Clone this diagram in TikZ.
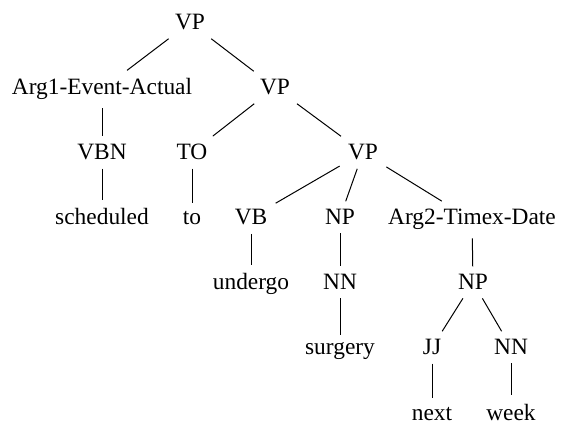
\documentclass[tikz,border=0pt]{standalone}
\usepackage{fontspec}
\setmainfont{Liberation Serif}
\begin{document}
\begin{tikzpicture}[x=0.5pt,y=-0.5pt,
  lbl/.style={anchor=base,inner sep=4pt,font=\fontsize{11.7}{14}\selectfont},
  edge/.style={draw=black,line width=0.5pt}]
\useasboundingbox (0,0) rectangle (561,421);
% row baselines: 30, 95, 160, 225, 290, 355, 420
\node[lbl] (vp1) at (190,30) {VP};
\node[lbl] (arg1) at (102,95) {Arg1-Event-Actual};
\node[lbl] (vp2) at (275,95) {VP};
\node[lbl] (vbn) at (102,160) {VBN};
\node[lbl] (to) at (192,160) {TO};
\node[lbl] (vp3) at (363,160) {VP};
\node[lbl] (sched) at (102,225) {scheduled};
\node[lbl] (tow) at (192,225) {to};
\node[lbl] (vb) at (251,225) {VB};
\node[lbl] (np1) at (340,225) {NP};
\node[lbl] (arg2) at (472,225) {Arg2-Timex-Date};
\node[lbl] (undergo) at (251,290) {undergo};
\node[lbl] (nn1) at (340,290) {NN};
\node[lbl] (np2) at (473,290) {NP};
\node[lbl] (surgery) at (340,355) {surgery};
\node[lbl] (jj) at (432,355) {JJ};
\node[lbl] (nn2) at (511,355) {NN};
\node[lbl] (next) at (432,420) {next};
\node[lbl] (week) at (511,420) {week};
\draw[edge] (vp1) -- (arg1);
\draw[edge] (vp1) -- (vp2);
\draw[edge] (arg1) -- (vbn);
\draw[edge] (vbn) -- (sched);
\draw[edge] (vp2) -- (to);
\draw[edge] (vp2) -- (vp3);
\draw[edge] (to) -- (tow);
\draw[edge] (vp3) -- (vb);
\draw[edge] (vp3) -- (np1);
\draw[edge] (vp3) -- (arg2);
\draw[edge] (vb) -- (undergo);
\draw[edge] (np1) -- (nn1);
\draw[edge] (nn1) -- (surgery);
\draw[edge] (arg2) -- (np2);
\draw[edge] (np2) -- (jj);
\draw[edge] (np2) -- (nn2);
\draw[edge] (jj) -- (next);
\draw[edge] (nn2) -- (week);
\end{tikzpicture}
\end{document}
